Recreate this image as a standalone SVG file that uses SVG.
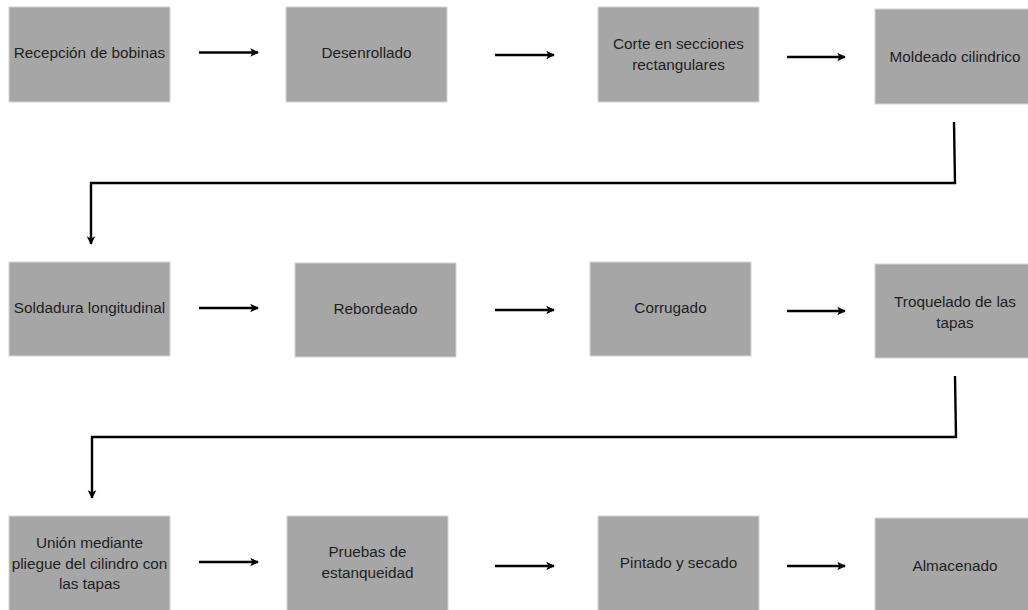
<svg xmlns="http://www.w3.org/2000/svg" width="1028" height="610" viewBox="0 0 1028 610">
<style>
.box{fill:#a6a6a6;stroke:#d4d4d4;stroke-width:1}
.t{font-family:"Liberation Sans",Arial,sans-serif;font-size:15.3px;fill:#1f1f1f;text-anchor:middle}
.c{fill:none;stroke:#000;stroke-width:2.4}
</style>
<defs>
<marker id="ah" viewBox="0 0 10 10" refX="9" refY="5" markerWidth="3.6" markerHeight="4" orient="auto" markerUnits="strokeWidth">
<path d="M0,0 L10,5 L0,10 L2.5,5 z" fill="#000"/>
</marker>
</defs>
<rect width="1028" height="610" fill="#fff"/>
<g id="n1"><rect class="box" x="9" y="7" width="161" height="95"/><text class="t" x="89.5" y="53" dy=".35em">Recepción de bobinas</text></g>
<g id="n2"><rect class="box" x="286" y="7" width="161" height="95"/><text class="t" x="366.5" y="53" dy=".35em">Desenrollado</text></g>
<g id="n3"><rect class="box" x="598" y="7" width="161" height="95"/><text class="t" x="678.5" y="44" dy=".35em">Corte en secciones</text><text class="t" x="678.5" y="65" dy=".35em">rectangulares</text></g>
<g id="n4"><rect class="box" x="875" y="9" width="160" height="95"/><text class="t" x="955" y="57" dy=".35em">Moldeado cilindrico</text></g>
<g id="n5"><rect class="box" x="9" y="262" width="161" height="94"/><text class="t" x="89.5" y="308" dy=".35em">Soldadura longitudinal</text></g>
<g id="n6"><rect class="box" x="295" y="263" width="161" height="94"/><text class="t" x="375.5" y="309" dy=".35em">Rebordeado</text></g>
<g id="n7"><rect class="box" x="590" y="262" width="161" height="94"/><text class="t" x="670.5" y="308" dy=".35em">Corrugado</text></g>
<g id="n8"><rect class="box" x="875" y="264" width="160" height="94"/><text class="t" x="955" y="302" dy=".35em">Troquelado de las</text><text class="t" x="955" y="323" dy=".35em">tapas</text></g>
<g id="n9"><rect class="box" x="9" y="516" width="161" height="100"/><text class="t" x="89.5" y="543" dy=".35em">Unión mediante</text><text class="t" x="89.5" y="564" dy=".35em">pliegue del cilindro con</text><text class="t" x="89.5" y="584" dy=".35em">las tapas</text></g>
<g id="n10"><rect class="box" x="287" y="516" width="161" height="100"/><text class="t" x="367.5" y="552" dy=".35em">Pruebas de</text><text class="t" x="367.5" y="573" dy=".35em">estanqueidad</text></g>
<g id="n11"><rect class="box" x="598" y="516" width="161" height="100"/><text class="t" x="678.5" y="563" dy=".35em">Pintado y secado</text></g>
<g id="n12"><rect class="box" x="875" y="518" width="160" height="100"/><text class="t" x="955" y="566" dy=".35em">Almacenado</text></g>
<g id="connectors">
<line class="c" x1="199" y1="52.5" x2="258" y2="52.5" marker-end="url(#ah)"/>
<line class="c" x1="495" y1="55" x2="554" y2="55" marker-end="url(#ah)"/>
<line class="c" x1="787" y1="57" x2="845" y2="57" marker-end="url(#ah)"/>
<polyline class="c" points="954,122 955,183 91,183 91,244" marker-end="url(#ah)"/>
<line class="c" x1="199" y1="308" x2="258" y2="308" marker-end="url(#ah)"/>
<line class="c" x1="495" y1="310" x2="554" y2="310" marker-end="url(#ah)"/>
<line class="c" x1="787" y1="311" x2="845" y2="311" marker-end="url(#ah)"/>
<polyline class="c" points="955,376 956,437 92,437 92,498" marker-end="url(#ah)"/>
<line class="c" x1="199" y1="562" x2="258" y2="562" marker-end="url(#ah)"/>
<line class="c" x1="495" y1="566" x2="554" y2="566" marker-end="url(#ah)"/>
<line class="c" x1="787" y1="566" x2="845" y2="566" marker-end="url(#ah)"/>
</g>
</svg>
